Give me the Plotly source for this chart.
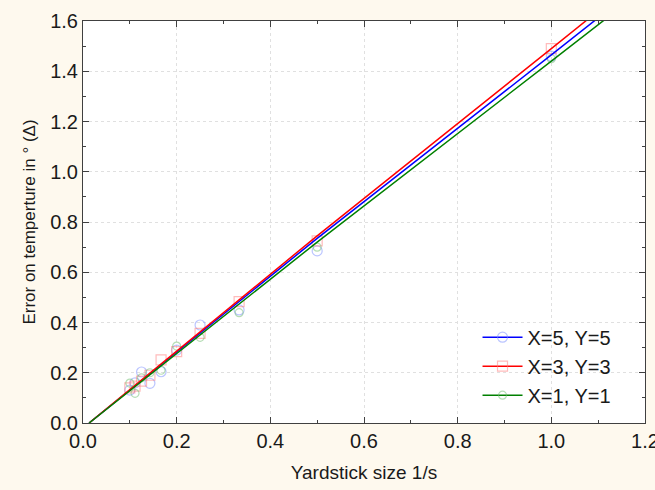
import plotly.graph_objects as go

# Yardstick sizes 1/s (s = 1..10)
x_pts = [1.0, 0.5, 0.3333, 0.25, 0.2, 0.1667, 0.1429, 0.125, 0.1111, 0.1]
y_blue_pts = [1.46, 0.685, 0.45, 0.39, 0.29, 0.204, 0.158, 0.203, 0.16, 0.131]
y_red_pts = [1.49, 0.725, 0.483, 0.357, 0.284, 0.251, 0.19, 0.167, 0.147, 0.14]
y_green_pts = [1.45, 0.70, 0.439, 0.341, 0.306, 0.21, 0.20, 0.18, 0.118, 0.159]

# Fitted lines
x_fit = [0.013, 0.5, 1.0, 1.2]
y_blue_fit = [0.0, 0.735, 1.465, 1.76]
y_red_fit = [0.0, 0.745, 1.49, 1.79]
y_green_fit = [0.0, 0.72, 1.44, 1.73]

x_ticks = [0.0, 0.2, 0.4, 0.6, 0.8, 1.0, 1.2]
y_ticks = [0.0, 0.2, 0.4, 0.6, 0.8, 1.0, 1.2, 1.4, 1.6]

names = ["X=5, Y=5", "X=3, Y=3", "X=1, Y=1"]

series = [
    (names[0], y_blue_pts, y_blue_fit, "#0000ff", "rgba(120,140,255,0.5)", "circle-open", 10),
    (names[1], y_red_pts, y_red_fit, "#ff0000", "rgba(255,120,120,0.5)", "square-open", 10),
    (names[2], y_green_pts, y_green_fit, "#008000", "rgba(110,190,110,0.5)", "circle-open", 8),
]

fig = go.Figure()
for name, ypts, yfit, lc, mc, sym, sz in series:
    fig.add_trace(go.Scatter(x=x_pts, y=ypts, mode="markers", showlegend=False,
                             marker=dict(symbol=sym, size=sz, color=mc, line=dict(width=1.2, color=mc))))
for name, ypts, yfit, lc, mc, sym, sz in series:
    fig.add_trace(go.Scatter(x=x_fit, y=yfit, mode="lines", showlegend=False,
                             line=dict(color=lc, width=1.5)))
for name, ypts, yfit, lc, mc, sym, sz in series:
    fig.add_trace(go.Scatter(x=[None], y=[None], mode="lines+markers", name=name,
                             line=dict(color=lc, width=1.5),
                             marker=dict(symbol=sym, size=sz, color=mc, line=dict(width=1.2, color=mc))))

axis_common = dict(
    showline=True, linecolor="#404040", linewidth=1, mirror="ticks",
    ticks="inside", ticklen=6, tickcolor="#404040", tickwidth=1,
    showgrid=True, gridcolor="#e0e0e0", griddash="dot", gridwidth=1,
    zeroline=False, automargin=False, ticklabeloverflow="allow",
    tickfont=dict(size=20, color="#1a1a1a"),
    minor=dict(ticks="inside", ticklen=3, tickcolor="#404040", showgrid=False),
)

fig.update_layout(
    width=655, height=490,
    paper_bgcolor="#fef9ee", plot_bgcolor="white",
    margin=dict(l=83, r=10, t=21, b=67),
    font=dict(family="Liberation Sans, Arial, sans-serif", color="#1a1a1a"),
    xaxis=dict(range=[0, 1.2], tickmode="array", tickvals=x_ticks,
               ticktext=[f"{v:.1f}" for v in x_ticks],
               title=dict(text="Yardstick size 1/s", font=dict(size=19), standoff=14),
               **axis_common),
    yaxis=dict(range=[0, 1.6], tickmode="array", tickvals=y_ticks,
               ticktext=[f"{v:.1f}" for v in y_ticks],
               title=dict(text="Error on temperture in ° (Δ)", font=dict(size=17), standoff=10),
               **axis_common),
    legend=dict(x=0.702, y=0.262, xanchor="left", yanchor="top",
                bgcolor="rgba(255,255,255,0)", font=dict(size=20),
                itemwidth=40, tracegroupgap=0),
)
fig.update_xaxes(minor=dict(tickvals=[0.1, 0.3, 0.5, 0.7, 0.9, 1.1]))
fig.update_yaxes(minor=dict(tickvals=[0.1, 0.3, 0.5, 0.7, 0.9, 1.1, 1.3, 1.5]))

fig.write_html(
    "out.html",
    config={"displayModeBar": False},
    post_script="document.body.style.margin='0';document.body.style.background='#fef9ee';",
)
